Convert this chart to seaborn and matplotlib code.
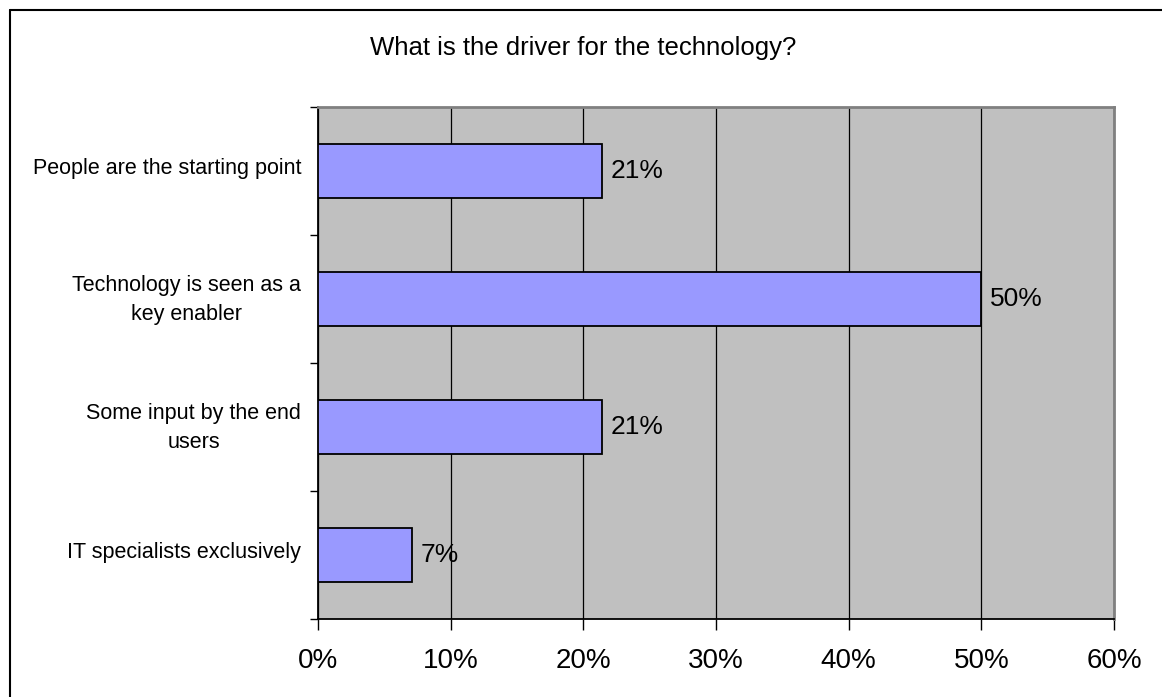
import matplotlib
matplotlib.use("Agg")
import matplotlib.pyplot as plt
import matplotlib.transforms as mtransforms
import seaborn as sns
import pandas as pd
from matplotlib.lines import Line2D
from matplotlib.ticker import FixedLocator

categories = ["People are the starting point",
              "Technology is seen as a\nkey enabler",
              "Some input by the end\nusers",
              "IT specialists exclusively"]
values = [21.4, 50.0, 21.4, 7.1]
labels = ["21%", "50%", "21%", "7%"]
xticks = [0, 10, 20, 30, 40, 50, 60]
title = "What is the driver for the technology?"

sns.set_theme(style="white")
plt.rcParams['font.family'] = ['Liberation Sans', 'DejaVu Sans']
plt.rcParams['text.color'] = 'black'
plt.rcParams['xtick.color'] = 'black'
plt.rcParams['ytick.color'] = 'black'

df = pd.DataFrame({"cat": categories, "val": values})

fig = plt.figure(figsize=(11.62, 6.97), dpi=100)
ax = fig.add_axes([318/1162, 1-619/697, (1114-318)/1162, (619-107)/697])
ax.set_facecolor("#C0C0C0")

sns.barplot(data=df, y="cat", x="val", orient="h", ax=ax, color="#9999FF",
            saturation=1, width=0.415, edgecolor="black", linewidth=1.3, zorder=3)

ax.set_xlim(0, 60)
ax.set_ylim(3.5, -0.5)
ax.set_xticks(xticks)
ax.set_xticklabels([f"{t}%" for t in xticks], fontsize=20, color="black")
ax.xaxis.grid(True, color="black", linewidth=0.9)
ax.set_axisbelow(True)
ax.tick_params(axis="x", direction="out", length=8, width=1, color="black", pad=13, bottom=True)
ax.set_yticks(range(len(categories)))
ax.set_yticklabels(categories, fontsize=15.5, ha="right", multialignment="center",
                   linespacing=1.45, color="black")
ax.tick_params(axis="y", which="major", length=0, pad=12)
ax.yaxis.set_minor_locator(FixedLocator([-0.5, 0.5, 1.5, 2.5, 3.5]))
ax.tick_params(axis="y", which="minor", length=6, width=1, color="black", direction="out", left=True)
ax.set_xlabel("")
ax.set_ylabel("")

shift = mtransforms.ScaledTranslation(0, 5/100, fig.dpi_scale_trans)
for t in ax.get_yticklabels():
    t.set_transform(t.get_transform() + shift)

for s in ["left", "bottom"]:
    ax.spines[s].set_color("black")
    ax.spines[s].set_linewidth(1.3)
for s in ["top", "right"]:
    ax.spines[s].set_color("#808080")
    ax.spines[s].set_linewidth(2)
    ax.spines[s].set_visible(True)

for i, (v, lab) in enumerate(zip(values, labels)):
    ax.annotate(lab, xy=(v, i), xytext=(6, 0), textcoords="offset points",
                ha="left", va="center", fontsize=19, color="black", zorder=5)

fig.text(583.5/1162, 1-48/697, title, ha="center", va="center", fontsize=18.5, color="black")

fig.add_artist(Line2D([10/1162, 10/1162], [0, 1-10/697], transform=fig.transFigure, color="black", linewidth=1.5))
fig.add_artist(Line2D([10/1162, 1], [1-10/697, 1-10/697], transform=fig.transFigure, color="black", linewidth=1.5))

fig.savefig("out.png", dpi=100, facecolor="white")
